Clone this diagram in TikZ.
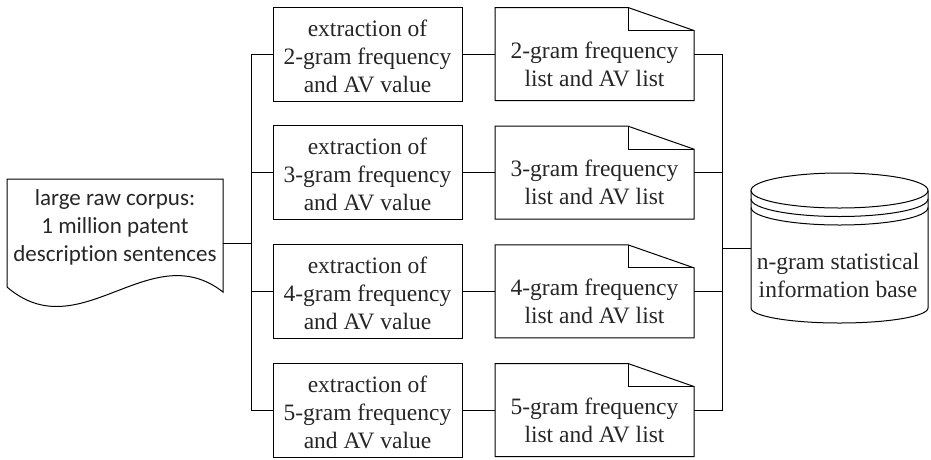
\documentclass[tikz,border=0pt]{standalone}
\usepackage{fontspec}
\setmainfont{Liberation Serif}
\newfontfamily\carlitofont[Ligatures={NoCommon,NoContextual}]{Carlito}
\usetikzlibrary{calc}
\begin{document}
\begin{tikzpicture}[x=1pt,y=-1pt,
  line width=1pt,
  txt/.style={font=\fontsize{23.5}{28}\selectfont, text=black!85, align=center, inner sep=0pt},
  procbox/.style={draw, minimum width=189pt, minimum height=94pt, inner sep=0pt},
  wire/.style={line width=1pt}]
\useasboundingbox (0,0) rectangle (931,459);

% left document
\node[txt, font=\carlitofont\fontsize{23}{28}\selectfont] (corpus) at (115,227)
  {large raw corpus:\\1 million patent\\description sentences};
\draw (7,179) -- (223,179) -- (223,292) .. controls (150,235) and (80,350) .. (7,287) -- cycle;
\coordinate (corpusE) at (223,243);
\coordinate (lbus) at (251,243);
\draw[wire] (corpusE) -- (lbus);

% right cylinder
\draw (839.5,190.5) ellipse [x radius=88.5, y radius=17.5];
\draw (751,190.5) -- (751,308) .. controls (751,316.3) and (790.6,323) .. (839.5,323)
      .. controls (888.4,323) and (928,316.3) .. (928,308) -- (928,190.5);
\draw (751,199) .. controls (751,208.7) and (790.6,216.5) .. (839.5,216.5)
      .. controls (888.4,216.5) and (928,208.7) .. (928,199);
\draw (751,207.5) .. controls (751,217.2) and (790.6,225) .. (839.5,225)
      .. controls (888.4,225) and (928,217.2) .. (928,207.5);
\node[txt] (base) at (838,275.5) {n-gram statistical\\information base};
\coordinate (baseW) at (751,248);
\coordinate (rbus) at (722,248);
\draw[wire] (rbus) -- (baseW);

\foreach \n [count=\k from 0] in {2,3,4,5} {
  \pgfmathsetmacro\yy{54+118.67*\k}
  \pgfmathsetmacro\tp{\yy-46.5}
  \pgfmathsetmacro\bt{\yy+46.5}
  \pgfmathsetmacro\fd{\tp+23}
  \pgfmathsetmacro\ty{\yy+10}
  \pgfmathsetmacro\py{\yy+2}
  \node[procbox] (p\n) at (367.5,\yy) {};
  \node[txt] (pt\n) at (367.5,\py) {extraction of\\\n-gram frequency\\and AV value};
  \node[txt] (d\n) at (594.5,\ty) {\n-gram frequency\\list and AV list};
  \draw (495,\tp) -- (628,\tp) -- (694,\fd) -- (694,\bt) -- (495,\bt) -- cycle;
  \draw (628,\tp) -- (628,\fd) -- (694,\fd);
  \coordinate (dw\n) at (495,\yy);
  \coordinate (de\n) at (694,\yy);
  \draw[wire] (p\n.east) -- (dw\n);
}
\draw[wire] (p2.west) -| (lbus);
\draw[wire] (p5.west) -| (lbus);
\draw[wire] (p3.west) -- (p3.west -| lbus);
\draw[wire] (p4.west) -- (p4.west -| lbus);
\draw[wire] (de2) -| (rbus);
\draw[wire] (de5) -| (rbus);
\draw[wire] (de3) -- (de3 -| rbus);
\draw[wire] (de4) -- (de4 -| rbus);
\end{tikzpicture}
\end{document}
